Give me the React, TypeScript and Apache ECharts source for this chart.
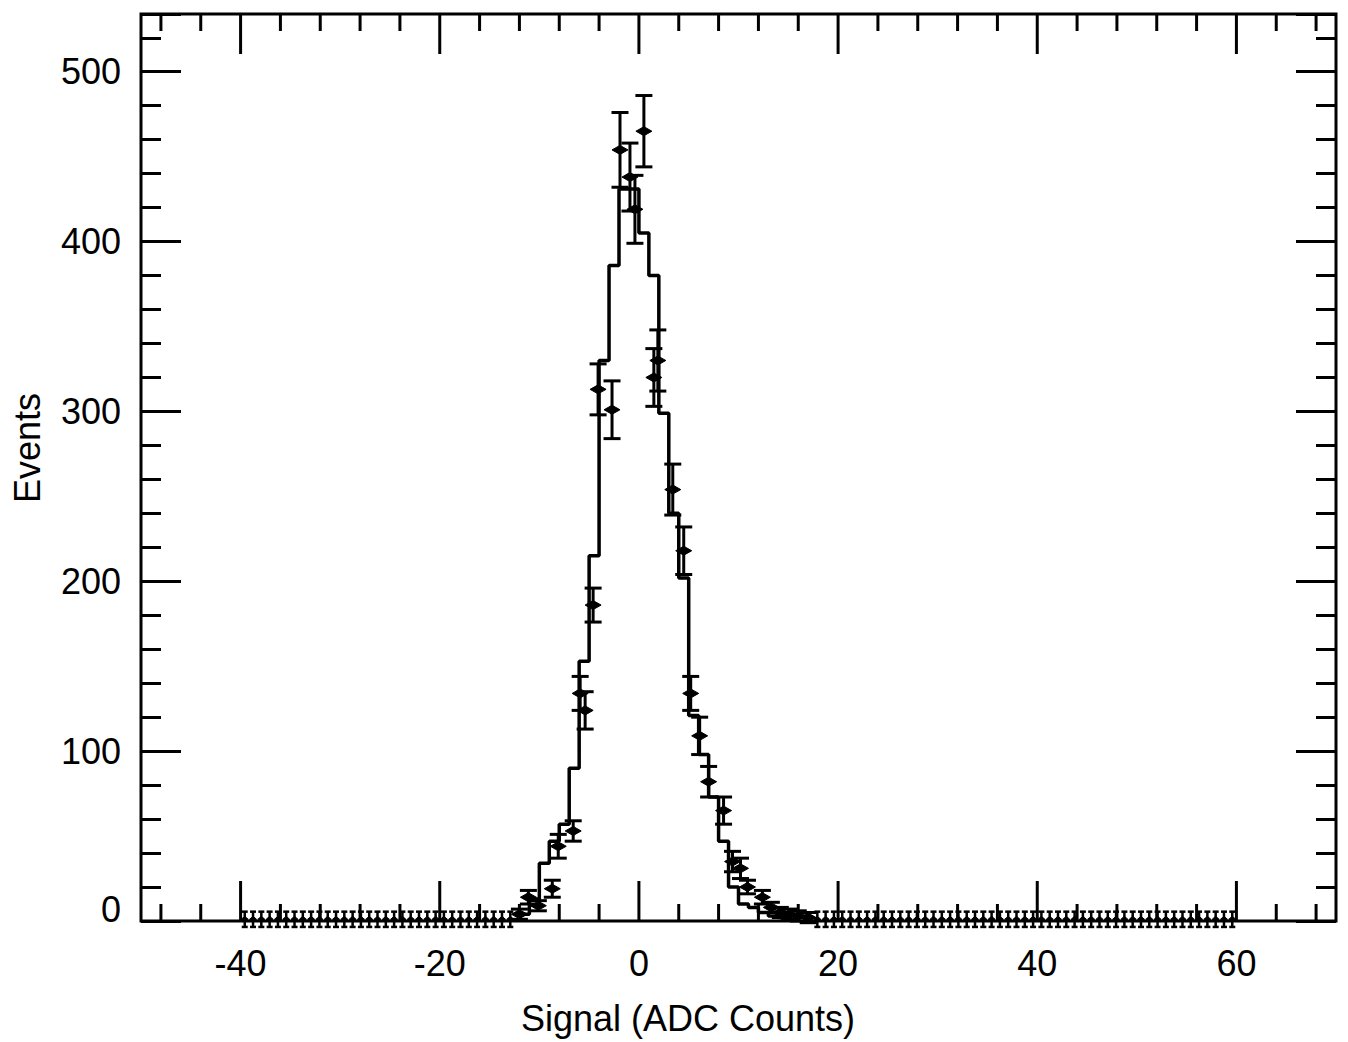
import React, { useEffect, useRef } from "react";
import * as echarts from "echarts";

// ---- axis ranges & ticks ----
const xMin = -50;
const xMax = 70;
const yMin = 0;
const yMax = 534;
const xMajorTicks = [-40, -20, 0, 20, 40, 60];
const xMinorTicks = [
  -48, -44, -36, -32, -28, -24, -16, -12, -8, -4, 4, 8, 12, 16, 24, 28, 32, 36,
  44, 48, 52, 56, 64, 68,
];

// ---- step histogram (left bin edges, counts) ----
const histLeftEdges = [
  -12, -11, -10, -9, -8, -7, -6, -5, -4, -3, -2, -1, 0, 1, 2, 3, 4, 5, 6, 7, 8,
  9, 10, 11, 12, 13, 14, 15,
];
const histRightEnd = 16;
const histCounts = [
  4, 13, 34, 47, 57, 90, 153, 215, 330, 386, 431, 431, 405, 380, 299, 240, 202,
  121, 98, 73, 47, 20, 10, 8, 5, 3, 2, 1,
];

// ---- data points with error bars (central region) ----
const ptX = [
  -12.0, -11.1, -10.1, -8.7, -8.1, -6.6, -5.9, -5.4, -4.6, -4.1, -2.7, -1.9,
  -0.9, -0.4, 0.5, 1.5, 1.9, 3.4, 4.5, 5.2, 6.1, 7.0, 8.5, 9.4, 10.2, 10.9,
  12.4, 13.3, 14.2, 15.1, 16.0, 17.0,
];
const ptY = [
  4, 14, 9, 19, 44, 53, 134, 124, 186, 313, 301, 454, 438, 419, 465, 320, 330,
  254, 218, 134, 109, 82, 65, 35, 31, 20, 14, 8, 5, 4, 3, 2,
];
const ptErr = [
  3, 4, 3, 5, 7, 6, 10, 11, 10, 15, 17, 22, 20, 20, 21, 17, 18, 15, 14, 10, 11,
  9, 8, 6, 6, 4, 4, 3, 3, 3, 3, 3,
];

// ---- near-empty bins along the baseline (tails) ----
const combBinWidth = 100 / 120;
const combStart = -40;
const combRightFirst = 69; // first bin index right of the peak
const combLeftValues = [
  1, 1, 1, 1, 1, 1, 1, 1, 1, 1, 1, 1, 1, 1, 1, 1, 1, 1, 1, 1, 1, 1, 1, 1, 1, 1,
  1, 1, 1, 1, 1, 1, 1,
];
const combRightValues = [
  1, 1, 1, 1, 1, 1, 1, 1, 1, 1, 1, 1, 1, 1, 1, 1, 1, 1, 1, 1, 1, 1, 1, 1, 1, 1,
  1, 1, 1, 1, 1, 1, 1, 1, 1, 1, 1, 1, 1, 1, 1, 1, 1, 1, 1, 1, 1, 1, 1, 1, 1,
];
const combErr = 4.5;

const FONT = "'Liberation Sans', Arial, Helvetica, sans-serif";

function errorBarRender(capW: number, mW: number, mH: number, lw: number) {
  return (params: any, api: any) => {
    const x = api.value(0);
    const y = api.value(1);
    const e = api.value(2);
    const p = api.coord([x, y]);
    const pt = api.coord([x, y + e]);
    const pb = api.coord([x, y - e]);
    const st = { stroke: "#000", lineWidth: lw, fill: "none" };
    return {
      type: "group",
      children: [
        { type: "line", shape: { x1: p[0], y1: pt[1], x2: p[0], y2: pb[1] }, style: st },
        { type: "line", shape: { x1: p[0] - capW / 2, y1: pt[1], x2: p[0] + capW / 2, y2: pt[1] }, style: st },
        { type: "line", shape: { x1: p[0] - capW / 2, y1: pb[1], x2: p[0] + capW / 2, y2: pb[1] }, style: st },
        {
          type: "polygon",
          shape: {
            points: [
              [p[0] - mW / 2, p[1]],
              [p[0], p[1] - mH / 2],
              [p[0] + mW / 2, p[1]],
              [p[0], p[1] + mH / 2],
            ],
          },
          style: { fill: "#000", stroke: "#000", lineWidth: 1 },
        },
      ],
    };
  };
}

function xTickRender(len: number, lw: number) {
  return (params: any, api: any) => {
    const x = api.coord([api.value(0), 0])[0];
    const cs = params.coordSys;
    const top = cs.y;
    const bottom = cs.y + cs.height;
    const st = { stroke: "#000", lineWidth: lw };
    return {
      type: "group",
      children: [
        { type: "line", shape: { x1: x, y1: bottom, x2: x, y2: bottom - len }, style: st },
        { type: "line", shape: { x1: x, y1: top, x2: x, y2: top + len }, style: st },
      ],
    };
  };
}

export default function App() {
  const ref = useRef<HTMLDivElement>(null);

  useEffect(() => {
    if (!ref.current) return;
    const chart = echarts.init(ref.current, undefined, { renderer: "svg" });

    const histData: number[][] = [[histLeftEdges[0], 0]];
    histLeftEdges.forEach((e, i) => histData.push([e, histCounts[i]]));
    histData.push([histRightEnd, 0]);

    const pointData = ptX.map((x, i) => [x, ptY[i], ptErr[i]]);
    const combData: number[][] = [];
    combLeftValues.forEach((v, i) =>
      combData.push([combStart + (i + 0.5) * combBinWidth, v, combErr])
    );
    combRightValues.forEach((v, i) =>
      combData.push([combStart + (combRightFirst + i + 0.5) * combBinWidth, v, combErr])
    );

    const yAxisBase = {
      type: "value",
      min: yMin,
      max: yMax,
      interval: 100,
      axisLine: { show: false, onZero: false },
      splitLine: { show: false },
      axisTick: { show: true, inside: true, length: 40, lineStyle: { color: "#000", width: 3 } },
      minorTick: { show: true, splitNumber: 5, length: 20, lineStyle: { color: "#000", width: 3 } },
    };

    chart.setOption({
      animation: false,
      backgroundColor: "#fff",
      grid: {
        left: 141,
        right: 12,
        top: 14,
        bottom: 121,
        show: true,
        borderColor: "#000",
        borderWidth: 3,
        backgroundColor: "transparent",
      },
      xAxis: {
        type: "value",
        min: xMin,
        max: xMax,
        interval: 10,
        axisLine: { show: false, onZero: false },
        axisTick: { show: false },
        splitLine: { show: false },
        axisLabel: {
          color: "#000",
          fontSize: 36,
          fontFamily: FONT,
          margin: 24,
          formatter: (v: number) => (v % 20 === 0 ? String(v) : ""),
        },
      },
      yAxis: [
        {
          ...yAxisBase,
          position: "left",
          axisLabel: {
            color: "#000",
            fontSize: 36,
            fontFamily: FONT,
            margin: 20,
            showMaxLabel: false,
            formatter: (v: number) =>
              v === 0 ? "{z|0}" : v % 100 === 0 ? String(v) : "",
            rich: {
              z: { fontSize: 36, fontFamily: FONT, color: "#000", padding: [0, 0, 24, 0] },
            },
          },
        },
        {
          ...yAxisBase,
          position: "right",
          axisLabel: { show: false },
        },
      ],
      series: [
        {
          type: "custom",
          name: "xMajor",
          silent: true,
          renderItem: xTickRender(40, 3),
          data: xMajorTicks.map((v) => [v, 0]),
          encode: { x: 0, y: 1 },
          z: 1,
        },
        {
          type: "custom",
          name: "xMinor",
          silent: true,
          renderItem: xTickRender(17, 3),
          data: xMinorTicks.map((v) => [v, 0]),
          encode: { x: 0, y: 1 },
          z: 1,
        },
        {
          type: "line",
          name: "hist",
          step: "end",
          silent: true,
          showSymbol: false,
          symbol: "none",
          data: histData,
          lineStyle: { color: "#000", width: 3.5 },
          z: 2,
        },
        {
          type: "custom",
          name: "points",
          silent: true,
          clip: false,
          renderItem: errorBarRender(17, 16, 9, 3),
          data: pointData,
          encode: { x: 0, y: [1, 2] },
          z: 3,
        },
        {
          type: "custom",
          name: "comb",
          silent: true,
          clip: false,
          renderItem: errorBarRender(6, 7, 6, 2.5),
          data: combData,
          encode: { x: 0, y: [1, 2] },
          z: 3,
        },
      ],
      graphic: [
        {
          type: "text",
          x: 27,
          y: 448,
          rotation: Math.PI / 2,
          style: {
            text: "Events",
            fontSize: 36,
            fontFamily: FONT,
            fill: "#000",
            align: "center",
            verticalAlign: "middle",
            textAlign: "center",
            textVerticalAlign: "middle",
          },
        },
        {
          type: "text",
          x: 688,
          y: 1018,
          style: {
            text: "Signal (ADC Counts)",
            fontSize: 36,
            fontFamily: FONT,
            fill: "#000",
            align: "center",
            verticalAlign: "middle",
            textAlign: "center",
            textVerticalAlign: "middle",
          },
        },
      ],
    });

    return () => chart.dispose();
  }, []);

  return (
    <div
      ref={ref}
      style={{ position: "fixed", left: 0, top: 0, width: 1348, height: 1042, background: "#fff" }}
    />
  );
}
